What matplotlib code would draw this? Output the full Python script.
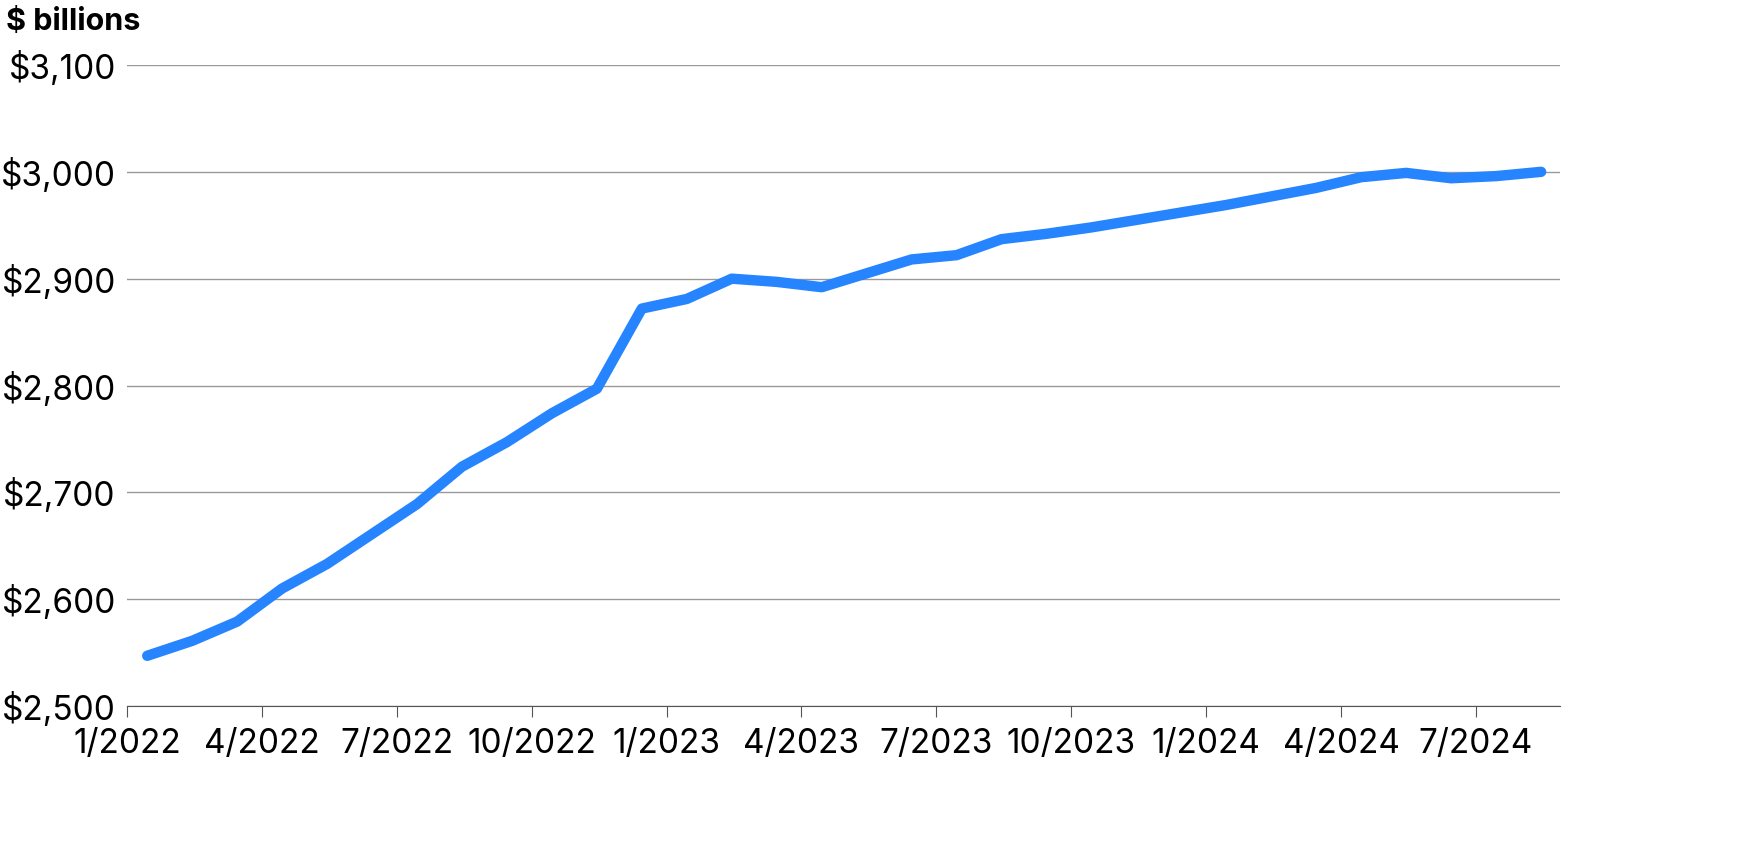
import matplotlib.pyplot as plt

# monthly values, Jan 2022 - Aug 2024 ($ billions)
values = [2547, 2561, 2579, 2610, 2633, 2661, 2689, 2724, 2747, 2774, 2797,
          2872, 2881, 2900, 2897, 2892, 2905, 2918, 2922, 2937, 2942, 2948,
          2955, 2962, 2969, 2977, 2985, 2995, 2999, 2994, 2996, 3000]
tick_labels = ['1/2022', '4/2022', '7/2022', '10/2022', '1/2023', '4/2023',
               '7/2023', '10/2023', '1/2024', '4/2024', '7/2024']

plt.rcParams['font.family'] = ['Inter', 'DejaVu Sans']
fig = plt.figure(figsize=(17.6, 8.66), dpi=100)
ax = fig.add_axes([127/1760, 1-706/866, (1560-127)/1760, (706-65)/866])

x = [i + 0.45 for i in range(len(values))]
ax.plot(x, values, color='#2684ff', lw=7.5, solid_capstyle='round', solid_joinstyle='round', zorder=3)

ax.set_xlim(0, 31.87)
ax.set_ylim(2500, 3100)
ax.set_xticks(range(0, 31, 3))
ax.set_xticklabels(tick_labels, fontsize=24)
ax.set_yticks(range(2500, 3101, 100))
ax.set_yticklabels(['${:,}'.format(v) for v in range(2500, 3101, 100)], fontsize=24)
ax.grid(axis='y', color='#999999', lw=1)
for s in ['top', 'right', 'left']:
    ax.spines[s].set_visible(False)
ax.spines['bottom'].set_color('#555555')
ax.tick_params(axis='y', length=0, pad=8)
ax.tick_params(axis='x', length=8, color='#555555', pad=8)
fig.text(6/1760, 1-22/866, '$ billions', fontsize=22, fontweight='bold', va='center')

fig.savefig('out.png')
